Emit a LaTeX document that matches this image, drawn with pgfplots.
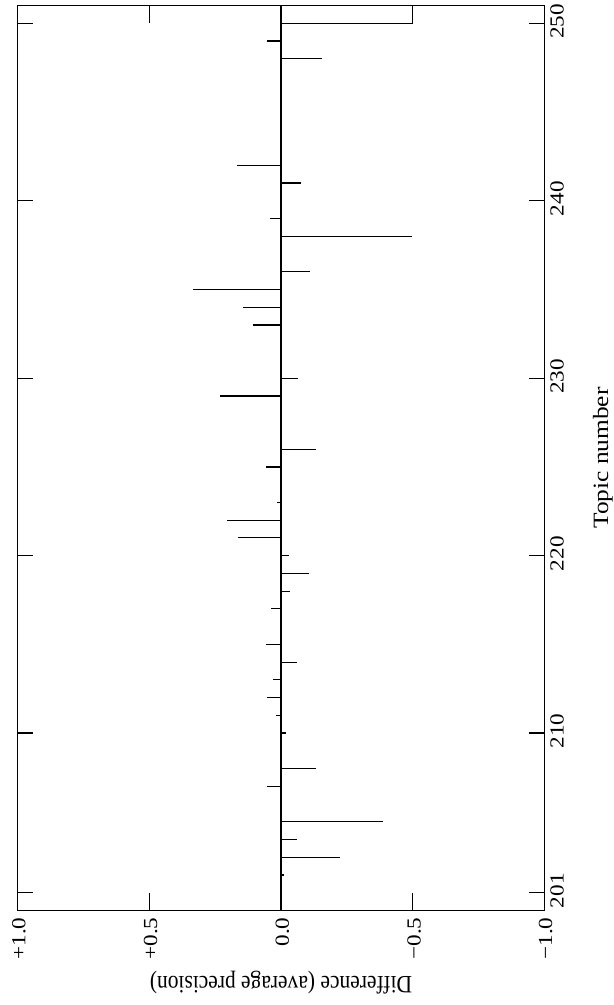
\documentclass[border=0pt]{standalone}
\usepackage{fontspec}
\setmainfont{Liberation Serif}
\usepackage{pgfplots}
\usepackage{pgfplotstable}
\pgfplotsset{compat=1.18}

\pgfplotstableread{
topic diff
201 -0.005
202 -0.011
203 -0.224
204 -0.059
205 -0.386
206 0
207 0.054
208 -0.133
209 0
210 -0.018
211 0.019
212 0.052
213 0.029
214 -0.059
215 0.058
216 0
217 0.038
218 -0.033
219 -0.105
220 -0.029
221 0.163
222 0.205
223 0.016
224 0
225 0.057
226 -0.132
227 0
228 0
229 0.232
230 -0.066
231 0
232 0
233 0.107
234 0.145
235 0.334
236 -0.111
237 0
238 -0.497
239 0.042
240 0
241 -0.075
242 0.168
243 0
244 0
245 0
246 -0.005
247 0
248 -0.154
249 0.054
250 -0.5
}\topics

\begin{document}
\begin{tikzpicture}
\begin{axis}[
  name=ax,
  scale only axis,
  width=263.4pt, height=452.5pt,
  xmin=-1, xmax=1, x dir=reverse,
  ymin=200, ymax=251,
  xtick={-1,-0.5,0,0.5,1},
  xticklabels={−1.0,−0.5,0.0,+0.5,+1.0},
  ytick={201,210,220,230,240,250},
  yticklabels={201,210,220,230,240,250},
  yticklabel pos=right,
  tick align=inside,
  major tick length=7.5pt,
  xtick style={/pgfplots/major tick length=8.7pt},
  axis line style={line width=0.6pt},
  every tick/.append style={black, line width=0.6pt},
  xticklabel style={font=\fontsize{11.6}{13}\selectfont, xscale=0.86, rotate=90, anchor=east, yshift=-0.8pt},
  yticklabel style={font=\fontsize{11.6}{13}\selectfont, xscale=0.86, rotate=90, anchor=north, xshift=1pt},
  xlabel={Difference (average precision)},
  ylabel={Topic number},
  every axis x label/.style={at={(axis description cs:0.5,0)}, anchor=center, yshift=-35.9pt, xscale=0.86, rotate=180, font=\fontsize{12.5}{14}\selectfont},
  every axis y label/.style={at={(axis description cs:1,0.5)}, anchor=center, xshift=29.3pt, xscale=0.86, rotate=90, font=\fontsize{12.7}{14}\selectfont},
]
\addplot[black, line width=0.6pt] coordinates {(0,200) (0,251)};
\addplot[xcomb, black, line width=0.6pt] table[x=diff, y=topic] {\topics};
\addplot[black, line width=0.6pt] coordinates {(-0.5,250) (-0.5,251)};
\end{axis}
\pgfresetboundingbox
\path[use as bounding box] ([shift={(-8.8pt,-47.25pt)}]ax.south west) rectangle ([shift={(34.8pt,2.8pt)}]ax.north east);
\end{tikzpicture}
\end{document}
